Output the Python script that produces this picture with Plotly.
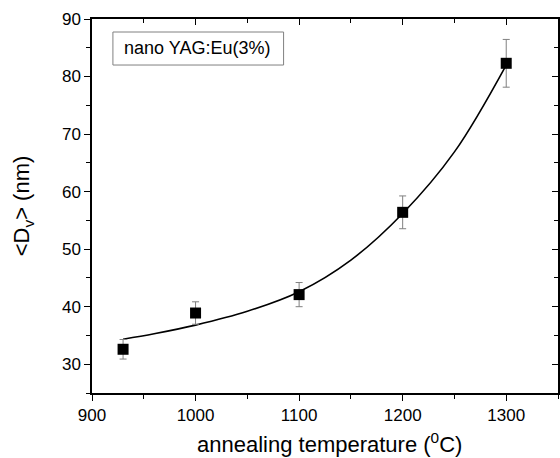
import plotly.graph_objects as go

# measured data
temps = [930, 1000, 1100, 1200, 1300]
size_nm = [32.6, 38.9, 42.1, 56.4, 82.3]
size_err = [1.7, 1.95, 2.1, 2.85, 4.15]

# fitted curve
fit_x = [930, 960, 1000, 1050, 1100, 1150, 1200, 1250, 1300]
fit_y = [34.35, 35.3, 36.8, 39.2, 42.6, 48.1, 56.2, 66.9, 82.0]

legend_text = "nano YAG:Eu(3%)"
x_title = "annealing temperature (<sup>0</sup>C)"
y_title = "<D<sub>v</sub>> (nm)"

FONT = "Liberation Sans, Arial, sans-serif"

fig = go.Figure()
fig.add_trace(go.Scatter(x=fit_x, y=fit_y, mode="lines",
                         line=dict(color="black", width=1.6, shape="spline"),
                         showlegend=False, hoverinfo="skip"))
fig.add_trace(go.Scatter(x=temps, y=size_nm, mode="markers",
                         marker=dict(symbol="square", size=11, color="black"),
                         error_y=dict(type="data", array=size_err, visible=True,
                                      color="#808080", thickness=1, width=3.5),
                         showlegend=False))
# invisible trace on mirror axes
fig.add_trace(go.Scatter(x=[900], y=[25], xaxis="x2", yaxis="y2", mode="markers",
                         marker=dict(opacity=0), showlegend=False, hoverinfo="skip"))

axis_common = dict(showgrid=False, zeroline=False, showline=True, linecolor="black",
                   linewidth=1.5, tickcolor="black", tickwidth=1.2)

fig.update_layout(
    width=560, height=458,
    margin=dict(l=92, r=2, t=19, b=65),
    plot_bgcolor="white", paper_bgcolor="white",
    font=dict(family=FONT, color="black"),
    xaxis=dict(range=[900, 1350], tick0=900, dtick=100, ticks="outside", ticklen=6,
               tickfont=dict(size=17), minor=dict(dtick=50, ticks="outside", ticklen=4,
                                                  tickcolor="black", tickwidth=1.2),
               **axis_common),
    yaxis=dict(range=[25, 90], tick0=30, dtick=10, ticks="outside", ticklen=6,
               tickfont=dict(size=17), minor=dict(dtick=5, ticks="outside", ticklen=4,
                                                  tickcolor="black", tickwidth=1.2),
               title=dict(text=y_title, font=dict(size=22), standoff=26),
               **axis_common),
    xaxis2=dict(range=[900, 1350], overlaying="x", side="top", tick0=900, dtick=100,
                ticks="inside", ticklen=6, showticklabels=False,
                minor=dict(dtick=50, ticks="inside", ticklen=4, tickcolor="black", tickwidth=1.2),
                **axis_common),
    yaxis2=dict(range=[25, 90], overlaying="y", side="right", anchor="x2", tick0=30, dtick=10,
                ticks="inside", ticklen=6, showticklabels=False,
                minor=dict(dtick=5, ticks="inside", ticklen=4, tickcolor="black", tickwidth=1.2),
                **axis_common),
)

# x-axis title as annotation for precise placement
fig.add_annotation(x=0.5, y=0, xref="paper", yref="paper", text=x_title,
                   showarrow=False, yanchor="middle", yshift=-50, xshift=4,
                   font=dict(size=22, family=FONT, color="black"))

fig.add_shape(type="rect", xref="x", yref="y", x0=920.2, x1=1085, y0=82.0, y1=87.74,
              line=dict(color="#808080", width=1), fillcolor="white")
fig.add_annotation(x=1001.7, y=84.95, xref="x", yref="y", text=legend_text,
                   showarrow=False, font=dict(size=18, family=FONT, color="black"))

fig.write_html("out.html")
